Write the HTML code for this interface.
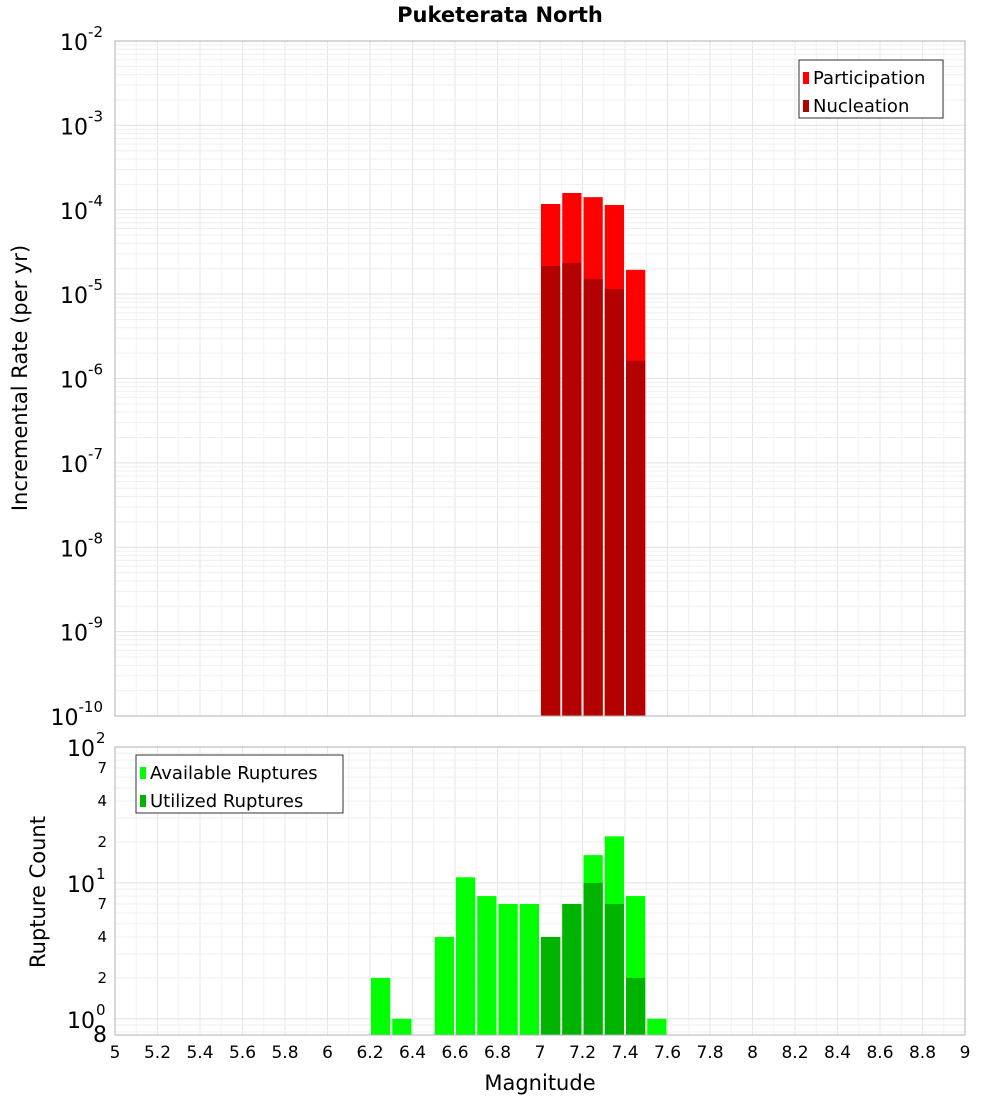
<!DOCTYPE html>
<html><head><meta charset="utf-8"><style>body{margin:0;background:#fff}svg text{font-family:"DejaVu Sans","Liberation Sans",sans-serif}</style></head>
<body>
<svg id="c" width="1000" height="1100" xmlns="http://www.w3.org/2000/svg"></svg>
<script>
const bins=[6.25,6.35,6.45,6.55,6.65,6.75,6.85,6.95,7.05,7.15,7.25,7.35,7.45,7.55];
const available=[2,1,0,4,11,8,7,7,4,7,16,22,8,1];
const utilized=[0,0,0,0,0,0,0,0,4,7,10,7,2,0];
const rateBins=[7.05,7.15,7.25,7.35,7.45];
const participation=[1.17e-4,1.58e-4,1.41e-4,1.14e-4,1.94e-5];
const nucleation=[2.15e-5,2.34e-5,1.51e-5,1.15e-5,1.62e-6];
const xTicks=[5,5.2,5.4,5.6,5.8,6,6.2,6.4,6.6,6.8,7,7.2,7.4,7.6,7.8,8,8.2,8.4,8.6,8.8,9];
const topExp=[-10,-9,-8,-7,-6,-5,-4,-3,-2];
const botMinor=[2,4,7];

const S=document.getElementById('c');const NS='http://www.w3.org/2000/svg';
function el(t,a,txt,p){const e=document.createElementNS(NS,t);for(const k in a)e.setAttribute(k,a[k]);if(txt!=null)e.textContent=txt;(p||S).appendChild(e);return e;}
const L=115,R=965;
const X=v=>L+(v-5)/4*(R-L);
const T0=41,T1=716; const YT=v=>T1-(Math.log10(v)+10)/8*(T1-T0);
const B0=747,B1=1035; const lo=Math.log10(0.76); const YB=v=>B1-(Math.log10(v)-lo)/(2-lo)*(B1-B0);

function grid(y0,y1,yf,decs){
  const g=el('g',{});
  for(let v=5;v<=9.001;v+=0.1){el('line',{x1:X(v),x2:X(v),y1:y0,y2:y1,stroke:Math.round(v*10)%2==0?'#e6e6e6':'#f2f2f2','stroke-width':1},null,g);}
  decs.forEach(d=>{for(let m=1;m<10;m++){const v=m*Math.pow(10,d);const y=yf(v);if(y<y0-0.5||y>y1+0.5)continue;el('line',{x1:L,x2:R,y1:y,y2:y,stroke:m==1?'#e0e0e0':'#efefef','stroke-width':1},null,g);}});
}
grid(T0,T1,YT,[-10,-9,-8,-7,-6,-5,-4,-3,-2]);
grid(B0,B1,YB,[-1,0,1,2]);

// top bars
const bw=X(0.1)-X(0);
rateBins.forEach((m,i)=>{
  let r=el('rect',{x:X(m-0.05)+1,y:YT(participation[i]),width:bw-2,height:T1-YT(participation[i]),fill:'#ff0000'});
  
  r=el('rect',{x:X(m-0.05)+1,y:YT(nucleation[i]),width:bw-2,height:T1-YT(nucleation[i]),fill:'#b30000'});
  
});
bins.forEach((m,i)=>{
  if(available[i]>0){let r=el('rect',{x:X(m-0.05)+1,y:YB(available[i]),width:bw-2,height:B1-YB(available[i]),fill:'#00ff00'});
  }
  if(utilized[i]>0){let r=el('rect',{x:X(m-0.05)+1,y:YB(utilized[i]),width:bw-2,height:B1-YB(utilized[i]),fill:'#00b300'});
  }
});
el('rect',{x:L,y:T0,width:R-L,height:T1-T0,fill:'none',stroke:'#b0b0b0'});
el('rect',{x:L,y:B0,width:R-L,height:B1-B0,fill:'none',stroke:'#b0b0b0'});

// top y labels
topExp.forEach(e=>{const y=YT(Math.pow(10,e));
  const t=el('text',{x:103,y:y+9,'text-anchor':'end','font-size':22});
  t.textContent='10';el('tspan',{dy:-13,'font-size':15},String(e),t);
  t.querySelector('tspan').setAttribute('x',null);
});
// fix tspan x
S.querySelectorAll('tspan').forEach(ts=>ts.removeAttribute('x'));
// bottom y labels
[[100,'2'],[10,'1'],[1,'0']].forEach(([v,e])=>{const y=YB(v);
  const t=el('text',{x:95,y:y+9,'text-anchor':'end','font-size':22},'10');
  el('text',{x:96,y:y-4,'font-size':15},e);});
[1,10].forEach(d=>botMinor.forEach(m=>{const y=YB(m*d);el('text',{x:107,y:y+5,'text-anchor':'end','font-size':15},String(m));}));
el('text',{x:107,y:1042,'text-anchor':'end','font-size':22},'8');
// x labels
xTicks.forEach(v=>{const t=el('text',{x:X(v),y:1058,'text-anchor':'middle','font-size':17},String(Math.round(v*10)/10));});
el('text',{x:540,y:1090,'text-anchor':'middle','font-size':21},'Magnitude');
el('text',{x:500,y:22,'text-anchor':'middle','font-size':21,'font-weight':'bold'},'Puketerata North');
el('text',{x:0,y:0,transform:'translate(27,378) rotate(-90)','text-anchor':'middle','font-size':21},'Incremental Rate (per yr)');
el('text',{x:0,y:0,transform:'translate(45,892) rotate(-90)','text-anchor':'middle','font-size':21},'Rupture Count');

// legends
function legend(x,y,w,items,name){const g=el('g',{});
  el('rect',{x:x,y:y,width:w,height:58,fill:'#fff',stroke:'#333'},null,g);
  items.forEach((it,i)=>{el('rect',{x:x+4,y:y+12+i*28,width:6,height:12,fill:it[1]},null,g);
  el('text',{x:x+14,y:y+24+i*28,'font-size':18},it[0],g);});}
legend(799,60,144,[['Participation','#ff0000'],['Nucleation','#b30000']],'legend-top');
legend(136,755,207,[['Available Ruptures','#00ff00'],['Utilized Ruptures','#00b300']],'legend-bottom');
</script>
</body></html>
